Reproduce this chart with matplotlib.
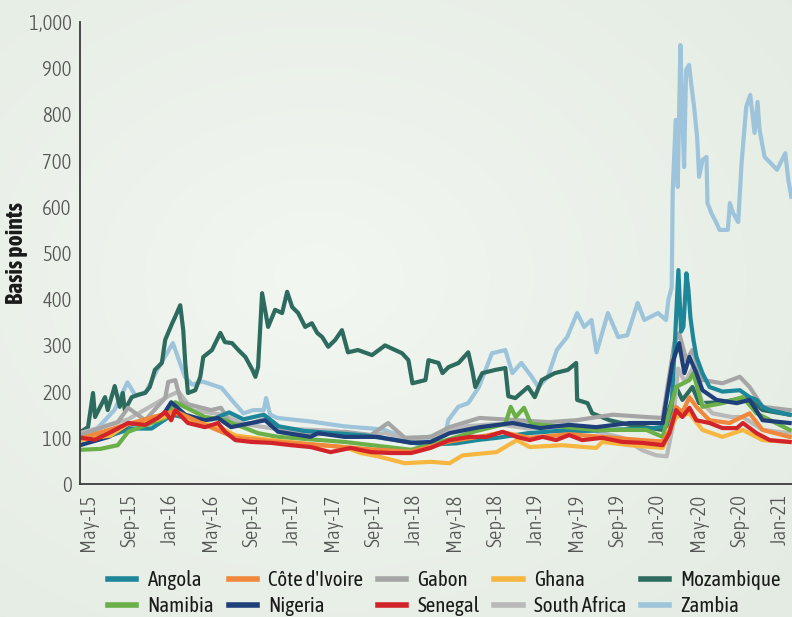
import numpy as np
import pandas as pd
import matplotlib
matplotlib.use("Agg")
import matplotlib.pyplot as plt
import matplotlib.dates as mdates
import matplotlib.transforms as mtransforms
from matplotlib import font_manager as fm
from matplotlib.ticker import FuncFormatter

# pick a condensed face if one is around, otherwise fall back to DejaVu
_have = {f.name for f in fm.fontManager.ttflist}
FONT = next((f for f in ["Asap Condensed", "PT Sans Narrow", "Barlow Semi Condensed",
                         "Roboto Condensed", "Liberation Sans Narrow"]
             if f in _have), None)
FS = 15 if FONT else 11
plt.rcParams['font.family'] = [FONT, 'DejaVu Sans'] if FONT else ['DejaVu Sans']

# ---- spreads (date, basis points) --------------------------------------------
zambia = [("2015-05-01", 105), ("2015-06-15", 115), ("2015-08-12", 160), ("2015-09-20", 220),
          ("2015-10-15", 190), ("2015-11-15", 200), ("2015-12-18", 247), ("2016-02-03", 305),
          ("2016-03-10", 232), ("2016-04-01", 215), ("2016-05-01", 222), ("2016-06-28", 208),
          ("2016-07-28", 182), ("2016-09-01", 153), ("2016-10-01", 160), ("2016-11-01", 160),
          ("2016-11-08", 186), ("2016-11-20", 150), ("2016-12-12", 143), ("2017-03-25", 135),
          ("2017-06-28", 125), ("2017-10-25", 118), ("2018-01-16", 95), ("2018-04-28", 105),
          ("2018-05-07", 138), ("2018-06-06", 167), ("2018-07-06", 175), ("2018-08-07", 210),
          ("2018-09-15", 283), ("2018-10-25", 290), ("2018-11-15", 240), ("2018-12-12", 262),
          ("2019-01-12", 232), ("2019-02-01", 210), ("2019-03-01", 232), ("2019-03-28", 290),
          ("2019-04-28", 318), ("2019-05-28", 370), ("2019-06-18", 340), ("2019-07-10", 355),
          ("2019-07-25", 285), ("2019-08-28", 370), ("2019-09-28", 318), ("2019-10-25", 322),
          ("2019-11-25", 392), ("2019-12-15", 355), ("2020-01-25", 370), ("2020-02-18", 355),
          ("2020-02-25", 398), ("2020-03-06", 426), ("2020-03-09", 636), ("2020-03-18", 788),
          ("2020-03-24", 643), ("2020-04-01", 950), ("2020-04-06", 816), ("2020-04-12", 686),
          ("2020-04-18", 896), ("2020-04-27", 907), ("2020-05-03", 868), ("2020-05-12", 816),
          ("2020-05-21", 751), ("2020-05-27", 665), ("2020-06-06", 701), ("2020-06-18", 708),
          ("2020-06-21", 608), ("2020-07-03", 586), ("2020-07-18", 565), ("2020-07-27", 550),
          ("2020-08-21", 550), ("2020-08-27", 608), ("2020-09-06", 586), ("2020-09-21", 567),
          ("2020-10-01", 694), ("2020-10-15", 816), ("2020-10-27", 842), ("2020-11-09", 760),
          ("2020-11-18", 827), ("2020-11-24", 766), ("2020-12-09", 708), ("2020-12-24", 697),
          ("2021-01-15", 680), ("2021-02-09", 716), ("2021-02-18", 658), ("2021-02-27", 622)]

mozambique = [("2015-05-01", 112), ("2015-05-25", 123), ("2015-06-09", 197), ("2015-06-15", 145),
              ("2015-07-15", 188), ("2015-07-23", 160), ("2015-08-13", 212), ("2015-08-28", 167),
              ("2015-09-06", 197), ("2015-09-12", 160), ("2015-10-03", 188), ("2015-10-21", 193),
              ("2015-11-12", 197), ("2015-11-26", 210), ("2015-12-11", 247), ("2016-01-01", 262),
              ("2016-01-11", 312), ("2016-02-01", 348), ("2016-02-10", 362), ("2016-02-25", 387),
              ("2016-03-05", 333), ("2016-03-11", 262), ("2016-03-19", 197), ("2016-04-10", 203),
              ("2016-04-25", 232), ("2016-05-04", 275), ("2016-05-30", 290), ("2016-06-24", 327),
              ("2016-07-08", 307), ("2016-07-29", 305), ("2016-08-17", 290), ("2016-09-07", 275),
              ("2016-09-28", 247), ("2016-10-07", 232), ("2016-10-15", 253), ("2016-10-27", 413),
              ("2016-11-14", 340), ("2016-12-05", 377), ("2016-12-26", 370), ("2017-01-10", 416),
              ("2017-01-25", 383), ("2017-02-12", 370), ("2017-03-05", 340), ("2017-03-25", 348),
              ("2017-04-10", 327), ("2017-04-25", 318), ("2017-05-13", 297), ("2017-06-03", 312),
              ("2017-06-23", 333), ("2017-07-11", 285), ("2017-08-10", 290), ("2017-09-21", 279),
              ("2017-10-30", 300), ("2017-11-29", 290), ("2017-12-20", 283), ("2018-01-08", 268),
              ("2018-01-20", 218), ("2018-02-28", 225), ("2018-03-09", 268), ("2018-04-08", 262),
              ("2018-04-20", 240), ("2018-05-08", 253), ("2018-06-07", 262), ("2018-07-06", 285),
              ("2018-07-18", 247), ("2018-07-27", 210), ("2018-08-17", 240), ("2018-09-25", 247),
              ("2018-10-25", 251), ("2018-11-03", 190), ("2018-11-24", 186), ("2019-01-01", 210),
              ("2019-01-21", 188), ("2019-02-11", 225), ("2019-03-22", 240), ("2019-04-30", 247),
              ("2019-05-25", 262), ("2019-05-28", 182), ("2019-06-28", 175), ("2019-07-12", 153),
              ("2019-09-02", 138), ("2019-11-01", 128), ("2020-02-08", 117), ("2020-03-19", 210),
              ("2020-04-07", 182), ("2020-05-07", 210), ("2020-05-27", 175), ("2020-08-05", 177),
              ("2020-10-16", 188), ("2020-12-03", 160), ("2021-02-22", 150)]

angola = [("2015-05-01", 100), ("2015-08-01", 105), ("2015-10-01", 120), ("2015-12-01", 120),
          ("2016-02-01", 150), ("2016-04-01", 140), ("2016-06-01", 140), ("2016-07-20", 155),
          ("2016-09-01", 140), ("2016-11-01", 150), ("2016-12-15", 125), ("2017-03-01", 115),
          ("2017-06-01", 110), ("2017-09-01", 105), ("2017-12-01", 95), ("2018-03-01", 85),
          ("2018-06-01", 88), ("2018-08-01", 95), ("2018-10-01", 100), ("2019-01-01", 110),
          ("2019-04-01", 115), ("2019-07-01", 115), ("2019-10-01", 118), ("2020-01-01", 120),
          ("2020-02-20", 125), ("2020-03-05", 160), ("2020-03-15", 300), ("2020-03-26", 463),
          ("2020-04-03", 330), ("2020-04-10", 340), ("2020-04-19", 456), ("2020-04-25", 420),
          ("2020-05-01", 360), ("2020-05-10", 312), ("2020-05-19", 275), ("2020-06-06", 240),
          ("2020-06-27", 210), ("2020-08-05", 200), ("2020-09-26", 203), ("2020-10-25", 188),
          ("2020-11-15", 182), ("2020-12-03", 167), ("2020-12-24", 160), ("2021-02-22", 150)]

gabon = [("2015-05-01", 106), ("2015-08-22", 134), ("2015-09-22", 165), ("2015-11-12", 138),
         ("2016-01-11", 186), ("2016-01-20", 221), ("2016-02-10", 225), ("2016-02-28", 177),
         ("2016-03-28", 171), ("2016-05-27", 160), ("2016-06-26", 165), ("2016-07-26", 128),
         ("2016-09-25", 132), ("2016-11-14", 143), ("2017-01-04", 113), ("2017-03-21", 106),
         ("2017-07-01", 113), ("2017-09-18", 106), ("2017-11-08", 132), ("2017-12-28", 100),
         ("2018-03-15", 102), ("2018-05-11", 123), ("2018-08-09", 143), ("2018-11-28", 138),
         ("2019-03-05", 134), ("2019-05-25", 138), ("2019-09-11", 150), ("2019-12-21", 145),
         ("2020-02-08", 143), ("2020-03-14", 305), ("2020-03-28", 327), ("2020-04-19", 268),
         ("2020-05-07", 290), ("2020-06-06", 225), ("2020-08-05", 218), ("2020-09-26", 232),
         ("2020-10-25", 210), ("2020-12-03", 167), ("2021-02-22", 160)]

south_africa = [("2015-05-01", 110), ("2015-09-22", 140), ("2016-01-20", 190), ("2016-02-20", 200),
                ("2016-04-01", 160), ("2016-07-01", 150), ("2016-09-01", 130), ("2016-12-01", 120),
                ("2017-03-01", 118), ("2017-06-01", 115), ("2017-09-01", 105), ("2017-11-01", 110),
                ("2018-01-15", 95), ("2018-04-01", 105), ("2018-07-01", 125), ("2018-10-01", 130),
                ("2019-01-01", 120), ("2019-04-01", 125), ("2019-07-01", 118), ("2019-10-10", 100),
                ("2019-12-09", 73), ("2020-01-20", 62), ("2020-02-20", 60), ("2020-03-08", 120),
                ("2020-03-25", 250), ("2020-04-15", 220), ("2020-05-07", 250), ("2020-06-06", 175),
                ("2020-07-06", 153), ("2020-09-01", 145), ("2020-10-05", 145), ("2020-12-03", 117),
                ("2021-02-22", 110)]

nigeria = [("2015-05-01", 84), ("2015-07-26", 102), ("2015-09-22", 128), ("2015-12-30", 143),
           ("2016-01-29", 177), ("2016-03-11", 150), ("2016-05-09", 138), ("2016-06-17", 143),
           ("2016-07-26", 123), ("2016-11-05", 138), ("2016-12-14", 113), ("2017-03-21", 102),
           ("2017-04-12", 110), ("2017-07-01", 102), ("2017-10-08", 102), ("2018-01-16", 89),
           ("2018-03-15", 91), ("2018-05-11", 110), ("2018-08-09", 123), ("2018-11-16", 132),
           ("2019-02-06", 121), ("2019-05-04", 128), ("2019-07-24", 123), ("2019-11-01", 132),
           ("2020-02-08", 132), ("2020-03-08", 262), ("2020-03-28", 305), ("2020-04-13", 240),
           ("2020-04-28", 275), ("2020-05-19", 240), ("2020-06-06", 203), ("2020-07-18", 182),
           ("2020-09-17", 175), ("2020-10-25", 182), ("2020-12-03", 138), ("2021-02-22", 132)]

namibia = [("2015-05-01", 74), ("2015-07-01", 76), ("2015-08-22", 84), ("2015-09-22", 113),
           ("2016-01-11", 143), ("2016-02-10", 177), ("2016-05-09", 145), ("2016-07-01", 140),
           ("2016-10-15", 110), ("2016-12-14", 102), ("2017-07-01", 91), ("2018-01-16", 74),
           ("2018-05-01", 95), ("2018-08-01", 115), ("2018-10-25", 130), ("2018-11-10", 167),
           ("2018-11-25", 145), ("2018-12-20", 165), ("2019-01-10", 130), ("2019-07-24", 117),
           ("2019-12-21", 117), ("2020-02-08", 102), ("2020-03-19", 210), ("2020-04-28", 225),
           ("2020-05-10", 240), ("2020-06-06", 167), ("2020-08-05", 175), ("2020-10-05", 188),
           ("2020-11-15", 153), ("2021-02-22", 117)]

ghana = [("2015-05-01", 95), ("2015-08-01", 105), ("2015-09-22", 130), ("2015-12-20", 140),
         ("2016-02-10", 155), ("2016-04-01", 135), ("2016-06-17", 125), ("2016-08-08", 105),
         ("2016-11-23", 95), ("2017-02-01", 90), ("2017-04-12", 84), ("2017-07-01", 80),
         ("2017-08-18", 67), ("2017-10-08", 60), ("2017-12-28", 45), ("2018-03-15", 48),
         ("2018-05-11", 45), ("2018-06-19", 62), ("2018-09-29", 69), ("2018-11-28", 95),
         ("2019-01-06", 80), ("2019-04-13", 84), ("2019-07-24", 78), ("2019-08-11", 91),
         ("2019-11-01", 84), ("2020-02-08", 78), ("2020-03-19", 145), ("2020-04-28", 153),
         ("2020-06-06", 117), ("2020-08-05", 102), ("2020-10-05", 117), ("2020-12-03", 95),
         ("2021-02-22", 91)]

cote_divoire = [("2015-05-01", 98), ("2015-09-22", 130), ("2016-02-10", 158), ("2016-05-09", 128),
                ("2016-08-08", 100), ("2016-12-01", 92), ("2017-04-12", 85), ("2017-09-18", 75),
                ("2018-01-16", 70), ("2018-05-11", 92), ("2018-08-30", 105), ("2018-10-17", 112),
                ("2019-01-06", 100), ("2019-05-04", 108), ("2019-08-11", 102), ("2019-12-09", 95),
                ("2020-02-08", 92), ("2020-02-28", 115), ("2020-03-19", 167), ("2020-04-07", 155),
                ("2020-04-28", 188), ("2020-05-19", 167), ("2020-06-27", 138), ("2020-08-26", 132),
                ("2020-10-25", 153), ("2020-12-03", 117), ("2021-02-22", 102)]

senegal = [("2015-05-01", 100), ("2015-06-15", 96), ("2015-07-26", 110), ("2015-09-22", 132),
           ("2015-11-12", 128), ("2015-12-20", 143), ("2016-01-11", 156), ("2016-01-29", 138),
           ("2016-02-10", 160), ("2016-03-19", 132), ("2016-05-09", 123), ("2016-06-17", 132),
           ("2016-07-08", 113), ("2016-08-08", 95), ("2016-09-25", 91), ("2016-11-23", 89),
           ("2017-01-22", 84), ("2017-03-21", 80), ("2017-05-20", 69), ("2017-07-19", 78),
           ("2017-09-18", 69), ("2017-11-17", 67), ("2018-01-16", 67), ("2018-03-15", 78),
           ("2018-05-11", 95), ("2018-07-10", 102), ("2018-08-30", 102), ("2018-10-17", 113),
           ("2018-11-28", 102), ("2019-01-06", 95), ("2019-02-14", 102), ("2019-03-26", 95),
           ("2019-05-04", 106), ("2019-06-12", 95), ("2019-08-11", 100), ("2019-10-10", 91),
           ("2019-12-09", 89), ("2020-02-08", 84), ("2020-02-28", 110), ("2020-03-19", 160),
           ("2020-04-07", 145), ("2020-04-28", 165), ("2020-05-19", 138), ("2020-06-27", 132),
           ("2020-08-05", 121), ("2020-09-17", 121), ("2020-10-05", 132), ("2020-11-15", 110),
           ("2020-12-24", 95), ("2021-02-22", 91)]

# (label, data, colour) in drawing order, back to front
series = [
    ("Zambia", zambia, "#9dc4da"),
    ("Mozambique", mozambique, "#2e6b5f"),
    ("South Africa", south_africa, "#b9b9b9"),
    ("Gabon", gabon, "#a5a5a5"),
    ("Angola", angola, "#1d8799"),
    ("Namibia", namibia, "#6aaf48"),
    ("Nigeria", nigeria, "#1f3f78"),
    ("Ghana", ghana, "#f6b63f"),
    ("Côte d'Ivoire", cote_divoire, "#f0873a"),
    ("Senegal", senegal, "#d2232a"),
]
# legend fills column by column -> interleave the two rows
legend_order = ["Angola", "Namibia", "Côte d'Ivoire", "Nigeria", "Gabon", "Senegal",
                "Ghana", "South Africa", "Mozambique", "Zambia"]

W, H = 792, 617
fig = plt.figure(figsize=(W / 100, H / 100), dpi=100)

# soft greenish background, a bit darker towards the edges
yy, xx = np.mgrid[0:H, 0:W]
r = np.hypot((xx - W * 0.4) / W, (yy - H * 0.45) / H)
t = np.clip(r / 0.75, 0, 1)[..., None]
bg = np.array([0.949, 0.969, 0.945]) * (1 - t) + np.array([0.895, 0.925, 0.89]) * t
fig.figimage(bg, 0, 0, zorder=-10)

ax = fig.add_axes([80 / W, (H - 484) / H, 712 / W, 462 / H])
ax.set_facecolor("none")

handles = {}
for name, data, col in series:
    d = pd.DataFrame(data, columns=["date", "bp"])
    d["date"] = pd.to_datetime(d["date"])
    ln, = ax.plot(d["date"], d["bp"], color=col, lw=3.0, solid_joinstyle="round", label=name)
    handles[name] = ln

ax.set_xlim(pd.Timestamp("2015-05-01"), pd.Timestamp("2021-03-01"))
ax.set_ylim(0, 1000)
ax.set_yticks(np.arange(0, 1001, 100))
ax.yaxis.set_major_formatter(FuncFormatter(lambda v, p: f"{int(v):,}"))
ax.xaxis.set_major_locator(mdates.MonthLocator(bymonth=[1, 5, 9]))
ax.xaxis.set_major_formatter(mdates.DateFormatter("%b-%y"))
ax.tick_params(length=0, labelsize=FS, labelcolor="#555555")
ax.tick_params(axis="y", pad=6)
ax.tick_params(axis="x", pad=7, rotation=90)
# rotated date labels sit a little right of their tick in the original
nudge = mtransforms.ScaledTranslation(8 / 100, 0, fig.dpi_scale_trans)
for lab in ax.get_xticklabels():
    lab.set_transform(lab.get_transform() + nudge)
for lab in ax.get_xticklabels() + ax.get_yticklabels():
    lab.set_fontweight(300)
for s in ["top", "right"]:
    ax.spines[s].set_visible(False)
for s in ["left", "bottom"]:
    ax.spines[s].set_color("#3a3a3a")
    ax.spines[s].set_linewidth(1.3)
ax.set_ylabel("Basis points", fontsize=FS + 2, fontweight="bold", color="#1a1a1a")
ax.yaxis.set_label_coords((28 - 80) / 712, 0.5)

leg = fig.legend([handles[n] for n in legend_order], legend_order, ncol=5,
                 loc="upper left", bbox_to_anchor=(108 / W, 1 - 570 / H),
                 frameon=False, prop={"size": FS, "weight": 400},
                 handlelength=1.35, handletextpad=0.55,
                 columnspacing=0.7, labelspacing=0.28, borderpad=0, borderaxespad=0)
for h in leg.legend_handles:
    h.set_linewidth(4)
for txt in leg.get_texts():
    txt.set_color("#1a1a1a")

fig.savefig("out.png", dpi=100, facecolor=fig.get_facecolor())
